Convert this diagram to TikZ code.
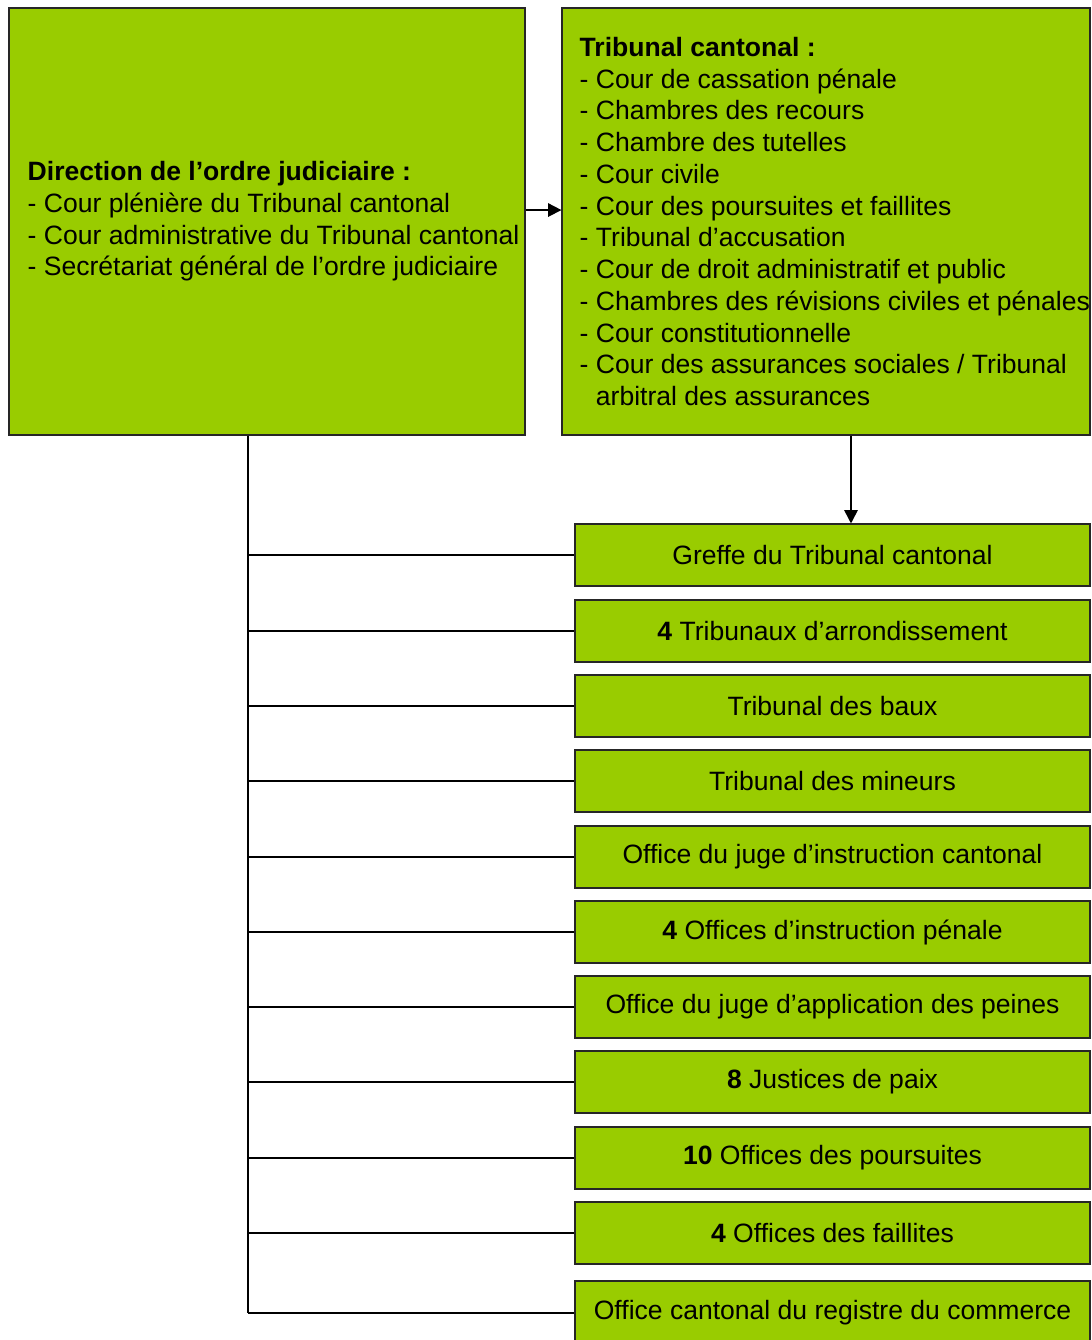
\documentclass[tikz,border=0pt]{standalone}
\usepackage{fontspec}
\setmainfont{Liberation Sans}
\usepackage{xcolor}
\usetikzlibrary{arrows.meta, positioning}

\definecolor{boxgreen}{HTML}{99CC00}

\begin{document}
\begin{tikzpicture}[x=0.75pt, y=-0.75pt,
  headbox/.style={rectangle, draw=black!85, line width=0.8pt, fill=boxgreen,
                  minimum height=320.25pt, inner sep=0pt},
  boxtext/.style={anchor=west, align=left, inner sep=0pt,
                  font=\fontsize{19.9}{23.8}\selectfont},
  unitbox/.style={rectangle, draw=black!85, line width=0.8pt, fill=boxgreen,
                  minimum width=386.25pt, minimum height=46.5pt, inner sep=0pt,
                  font=\fontsize{19.9}{23.8}\selectfont},
  arr/.style={-{Triangle[length=10pt, width=10pt]}, line width=1.3pt},
  link/.style={line width=1.2pt},
]
  \useasboundingbox (0,0) rectangle (1092,1340);

  % top row
  \node[headbox, minimum width=387pt] (dir) at (267,221.5) {};
  \node[headbox, minimum width=396pt] (tc) at (826,221.5) {};

  \node[boxtext] (dirtext) at ([xshift=14.25pt]dir.west)
    {\textbf{Direction de l’ordre judiciaire :}\\
     - Cour plénière du Tribunal cantonal\\
     - Cour administrative du Tribunal cantonal\\
     - Secrétariat général de l’ordre judiciaire};
  \node[boxtext] (tctext) at ([xshift=13.5pt]tc.west)
    {\textbf{Tribunal cantonal :}\\
     - Cour de cassation pénale\\
     - Chambres des recours\\
     - Chambre des tutelles\\
     - Cour civile\\
     - Cour des poursuites et faillites\\
     - Tribunal d’accusation\\
     - Cour de droit administratif et public\\
     - Chambres des révisions civiles et pénales\\
     - Cour constitutionnelle\\
     - Cour des assurances sociales / Tribunal\\
     \phantom{- }arbitral des assurances};

  % lower column
  \node[unitbox] (u0) at (832.5,555) {Greffe du Tribunal cantonal};
  \node[unitbox] (u1) at (832.5,631) {\textbf{4} Tribunaux d’arrondissement};
  \node[unitbox] (u2) at (832.5,706) {Tribunal des baux};
  \node[unitbox] (u3) at (832.5,781) {Tribunal des mineurs};
  \node[unitbox] (u4) at (832.5,857) {Office du juge d’instruction cantonal};
  \node[unitbox] (u5) at (832.5,932) {\textbf{4} Offices d’instruction pénale};
  \node[unitbox] (u6) at (832.5,1007) {Office du juge d’application des peines};
  \node[unitbox] (u7) at (832.5,1082) {\textbf{8} Justices de paix};
  \node[unitbox] (u8) at (832.5,1158) {\textbf{10} Offices des poursuites};
  \node[unitbox] (u9) at (832.5,1233) {\textbf{4} Offices des faillites};
  \node[unitbox, minimum height=48pt] (u10) at (832.5,1313) {Office cantonal du registre du commerce};

  % connectors
  \draw[arr] ([yshift=8.6pt]dir.east) -- ([yshift=8.6pt]tc.west);
  \draw[arr] ([xshift=18.75pt]tc.south) -- ([xshift=18.75pt]tc.south |- u0.north);

  \coordinate (trunk) at ([xshift=-14.25pt]dir.south);
  \draw[link] (trunk) -- (trunk |- u10.west);
  \foreach \i in {0,...,10}
    \draw[link] (trunk |- u\i.west) -- (u\i.west);
\end{tikzpicture}
\end{document}
